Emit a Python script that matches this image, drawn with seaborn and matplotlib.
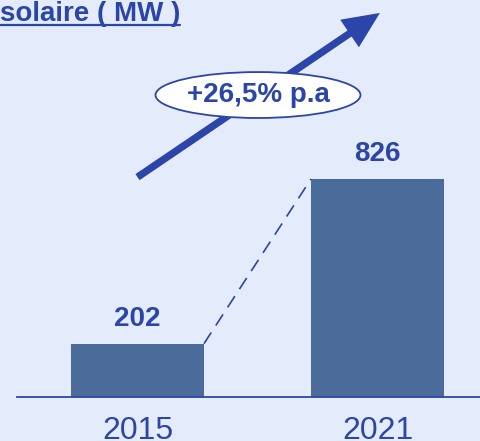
import matplotlib
matplotlib.use("Agg")
import matplotlib.pyplot as plt
from matplotlib.patches import Ellipse
from matplotlib.lines import Line2D
import seaborn as sns
import pandas as pd

years = ["2015", "2021"]
capacity_mw = [202, 826]
title = "solaire ( MW )"
growth_label = "+26,5% p.a"

BG = "#E4ECFC"
BLUE = "#2B45A8"
BAR = "#4B6C9B"
BAR_W = 0.554

sns.set_theme(style="white")
plt.rcParams["font.family"] = ["Liberation Sans", "DejaVu Sans"]

df = pd.DataFrame({"year": years, "mw": capacity_mw})

fig = plt.figure(figsize=(4.8, 4.41), dpi=100, facecolor=BG)
ax = fig.add_axes([17 / 480, 44 / 441, 1 - 17 / 480, 397 / 441])
ax.set_facecolor(BG)

sns.barplot(data=df, x="year", y="mw", ax=ax, color=BAR, saturation=1,
            width=BAR_W, edgecolor="none")

ax.set_xlim(-0.502, 1.427)
ax.set_ylim(0, 1504)
ax.set_xlabel("")
ax.set_ylabel("")
ax.set_yticks([])
ax.tick_params(axis="x", length=0, pad=14, labelsize=23, labelcolor=BLUE)
for s in ["top", "right", "left"]:
    ax.spines[s].set_visible(False)
ax.spines["bottom"].set_color(BLUE)
ax.spines["bottom"].set_linewidth(1.3)

# value labels
for i, v in enumerate(capacity_mw):
    ax.text(i, v + 45, str(v), ha="center", va="bottom", fontsize=20,
            fontweight="bold", color=BLUE)

# dashed connector between bar tops
ax.plot([0 + BAR_W / 2, 1 - BAR_W / 2], [capacity_mw[0], capacity_mw[1]],
        color=BLUE, lw=1.2, ls=(0, (8, 5)))

# growth arrow
ax.annotate("", xy=(1.01, 1455), xytext=(0.0, 833),
            arrowprops=dict(arrowstyle="simple,head_length=1.1,head_width=1.0,tail_width=0.22",
                            mutation_scale=24, color=BLUE, lw=0,
                            shrinkA=0, shrinkB=0))

ell = Ellipse((0.502, 1144), 0.854, 174, facecolor="white", edgecolor=BLUE,
              lw=1.3, zorder=5)
ax.add_patch(ell)
ax.text(0.502, 1144, growth_label, ha="center", va="center", fontsize=20,
        fontweight="bold", color=BLUE, zorder=6)

# title, underlined
t = fig.text(0.0, 1 - 21 / 441, title, ha="left", va="baseline", fontsize=20,
             fontweight="bold", color=BLUE)
fig.canvas.draw()
bb = t.get_window_extent()
uy = (441 - 25) / 441
fig.add_artist(Line2D([bb.x0 / 480, bb.x1 / 480], [uy, uy], color=BLUE, lw=1.6,
                      transform=fig.transFigure))

fig.savefig("out.png", dpi=100, facecolor=BG)
